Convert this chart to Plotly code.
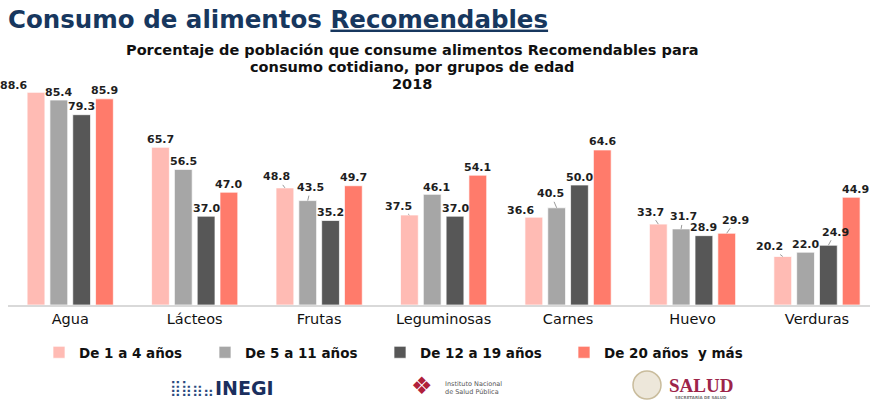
import plotly.graph_objects as go

categories = ["Agua", "Lácteos", "Frutas", "Leguminosas", "Carnes", "Huevo", "Verduras"]
series_names = ["De 1 a 4 años", "De 5 a 11 años", "De 12 a 19 años", "De 20 años  y más"]
s_1_4 = [88.6, 65.7, 48.8, 37.5, 36.6, 33.7, 20.2]
s_5_11 = [85.4, 56.5, 43.5, 46.1, 40.5, 31.7, 22.0]
s_12_19 = [79.3, 37.0, 35.2, 37.0, 50.0, 28.9, 24.9]
s_20_mas = [85.9, 47.0, 49.7, 54.1, 64.6, 29.9, 44.9]
series_values = [s_1_4, s_5_11, s_12_19, s_20_mas]

subtitle_lines = ["Porcentaje de población que consume alimentos Recomendables para",
                  "consumo cotidiano, por grupos de edad",
                  "2018"]

colors = ["#FFBBB4", "#A6A6A6", "#575757", "#FF7B6B"]

# layout geometry
W, H = 870, 400
ML, MR, MT, MB = 8, 0, 65, 95
X_LO, X_HI = -0.5, 6.426
BARGAP, BARGROUPGAP = 0.267, 0.22
px_per_cat = (W - ML - MR) / (X_HI - X_LO)
slot = px_per_cat * (1 - BARGAP) / len(series_values)

# label placement tweaks (screen px relative to bar-top centre), leader line flag
label_adj = {
    (0, 0): (-23, -7, False),
    (0, 2): (-8, -11, True), (1, 2): (3, -13, True),
    (0, 3): (-11, -9, True), (1, 3): (4, -7, False),
    (0, 4): (-13, -7, False), (1, 4): (-6, -14, True),
    (0, 5): (-8, -12, True), (1, 5): (2, -12, True), (3, 5): (9, -13, True),
    (0, 6): (-13, -10, True), (2, 6): (7, -13, True), (3, 6): (4, -8, False),
}

# legend entry left edges (px) - one legend box per series
legend_left_px = [39, 205, 380, 564]


def px_x(px):
    return (px - ML) / (W - ML - MR)


def px_y(py):
    return (H - MB - py) / (H - MT - MB)


legend_ids = ["legend", "legend2", "legend3", "legend4"]

fig = go.Figure()
for i, (name, vals) in enumerate(zip(series_names, series_values)):
    fig.add_trace(go.Bar(
        x=categories, y=vals, name=name, legend=legend_ids[i],
        marker=dict(color=colors[i], line=dict(color="rgba(255,255,255,0.7)", width=1)),
        hoverinfo="x+y+name",
    ))

annotations = []
for i, vals in enumerate(series_values):
    off = (i - (len(series_values) - 1) / 2) * slot
    for j, v in enumerate(vals):
        dx, dy, leader = label_adj.get((i, j), (0, -8, False))
        txt = f"{v:.1f}"
        fnt = dict(family="DejaVu Sans", size=11, color="#1E1E1E", weight="bold")
        if leader:
            annotations.append(dict(x=categories[j], y=v, xref="x", yref="y", text=txt,
                                    showarrow=True, arrowhead=0, arrowwidth=1,
                                    arrowcolor="#9A9A9A", ax=dx, ay=dy, xshift=off,
                                    standoff=0, font=fnt))
        else:
            annotations.append(dict(x=categories[j], y=v, xref="x", yref="y", text=txt,
                                    showarrow=False, xshift=off + dx, yshift=-dy,
                                    xanchor="center", yanchor="middle", font=fnt))

# subtitle, one annotation per line
for line, py in zip(subtitle_lines, [50, 67, 84]):
    annotations.append(dict(
        text=line, xref="paper", yref="paper", x=px_x(412), y=px_y(py),
        xanchor="center", yanchor="middle", showarrow=False, borderpad=0,
        font=dict(family="DejaVu Sans", size=14.5, color="#111111", weight="bold")))

# footer logos (text)
annotations += [
    dict(text="⣿⣷⣶⣤", xref="paper", yref="paper", x=px_x(192), y=px_y(388),
         showarrow=False, xanchor="center", yanchor="middle",
         font=dict(family="DejaVu Sans", size=15, color="#2B4A80")),
    dict(text="INEGI", xref="paper", yref="paper", x=px_x(244), y=px_y(388),
         showarrow=False, xanchor="center", yanchor="middle",
         font=dict(family="DejaVu Sans", size=19, color="#1B2F5E", weight="bold")),
    dict(text="❖", xref="paper", yref="paper", x=px_x(422), y=px_y(386),
         showarrow=False, xanchor="center", yanchor="middle",
         font=dict(family="DejaVu Sans", size=24, color="#B0203A")),
    dict(text="Instituto Nacional<br>de Salud Pública", xref="paper", yref="paper",
         x=px_x(443), y=px_y(388), showarrow=False, xanchor="left", yanchor="middle",
         align="left", font=dict(family="DejaVu Sans", size=6.5, color="#555555")),
    dict(text="SALUD", xref="paper", yref="paper", x=px_x(701), y=px_y(385),
         showarrow=False, xanchor="center", yanchor="middle",
         font=dict(family="Liberation Serif", size=19, color="#9D2449", weight="bold")),
    dict(text="SECRETARÍA DE SALUD", xref="paper", yref="paper", x=px_x(701), y=px_y(397),
         showarrow=False, xanchor="center", yanchor="middle",
         font=dict(family="DejaVu Sans", size=4, color="#777777", weight="bold")),
]

shapes = [dict(type="circle", xref="paper", yref="paper",
               x0=px_x(633), x1=px_x(661), y0=px_y(399), y1=px_y(371),
               line=dict(color="#C9BC9C", width=1.5), fillcolor="#EDE7DA")]

legend_style = dict(orientation="h", xanchor="left", y=px_y(337), yanchor="top",
                    font=dict(family="DejaVu Sans", size=13.5, color="#111111", weight="bold"),
                    itemclick=False, itemdoubleclick=False, bgcolor="rgba(0,0,0,0)")

layout_legends = {lid: dict(legend_style, x=px_x(lx)) for lid, lx in zip(legend_ids, legend_left_px)}

fig.update_layout(
    width=W, height=H, autosize=False,
    margin=dict(l=ML, r=MR, t=MT, b=MB, pad=0),
    paper_bgcolor="white", plot_bgcolor="white",
    barmode="group", bargap=BARGAP, bargroupgap=BARGROUPGAP,
    title=dict(text="Consumo de alimentos <u>Recomendables</u>", xref="container", yref="container",
               x=8 / W, y=1 - 19 / H, xanchor="left", yanchor="middle",
               font=dict(family="DejaVu Sans", size=24.5, color="#17375E", weight="bold")),
    xaxis=dict(range=[X_LO, X_HI], showline=True, linecolor="#D9D9D9", linewidth=2,
               ticks="", showgrid=False, zeroline=False,
               tickfont=dict(family="DejaVu Sans", size=14.5, color="#111111")),
    yaxis=dict(range=[0, 100], visible=False, showgrid=False, zeroline=False),
    annotations=annotations,
    shapes=shapes,
    showlegend=True,
    **layout_legends,
)

fig.write_html("out.html", config={"displayModeBar": False},
               post_script="document.body.style.margin='0';")
